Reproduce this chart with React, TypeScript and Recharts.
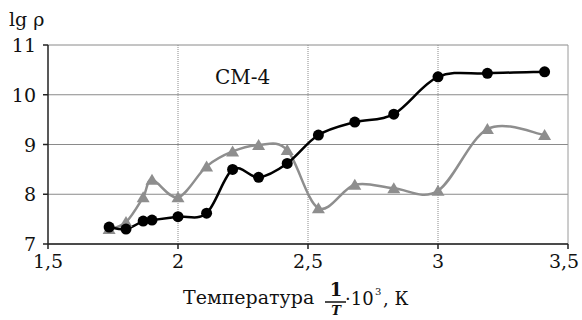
import React from 'react'
import {
  LineChart,
  Line,
  XAxis,
  YAxis,
  CartesianGrid,
  ReferenceLine,
} from 'recharts'

// 1/T * 10^3 values
const xValues = [1.735, 1.8, 1.866, 1.9, 2.0, 2.11, 2.21, 2.31, 2.42, 2.54, 2.68, 2.83, 3.0, 3.19, 3.41]
// black circles
const blackSeries = [7.34, 7.3, 7.46, 7.48, 7.55, 7.62, 8.5, 8.34, 8.62, 9.19, 9.45, 9.61, 10.36, 10.43, 10.46]
// gray triangles
const graySeries = [7.3, 7.44, 7.94, 8.29, 7.94, 8.56, 8.86, 8.99, 8.89, 7.72, 8.19, 8.12, 8.07, 9.31, 9.19]
const xTicks = [1.5, 2, 2.5, 3, 3.5]
const yTicks = [7, 8, 9, 10, 11]
const vGrid = [2, 2.5, 3]

const data = xValues.map((x, i) => ({ x, black: blackSeries[i], gray: graySeries[i] }))

const FONT = '"DejaVu Serif", serif'
const txt = { fontFamily: FONT, fill: '#111' }

// Excel-like smoothed line (Catmull-Rom through the points)
const smoothCurve = (context: any) => {
  let pts: number[][] = []
  return {
    areaStart() {},
    areaEnd() {},
    lineStart() {
      pts = []
    },
    point(x: number, y: number) {
      pts.push([x, y])
    },
    lineEnd() {
      if (!pts.length) return
      context.moveTo(pts[0][0], pts[0][1])
      for (let i = 0; i < pts.length - 1; i++) {
        const p0 = pts[Math.max(0, i - 1)]
        const p1 = pts[i]
        const p2 = pts[i + 1]
        const p3 = pts[Math.min(pts.length - 1, i + 2)]
        context.bezierCurveTo(
          p1[0] + (p2[0] - p0[0]) / 6,
          p1[1] + (p2[1] - p0[1]) / 6,
          p2[0] - (p3[0] - p1[0]) / 6,
          p2[1] - (p3[1] - p1[1]) / 6,
          p2[0],
          p2[1],
        )
      }
    },
  }
}

const Triangle = (props: any) => {
  const { cx, cy } = props
  if (cx == null || cy == null) return null
  return <polygon points={`${cx},${cy - 6} ${cx - 6.5},${cy + 5} ${cx + 6.5},${cy + 5}`} fill="#8e8e8e" />
}

const Circle = (props: any) => {
  const { cx, cy } = props
  if (cx == null || cy == null) return null
  return <circle cx={cx} cy={cy} r={5.5} fill="#000" />
}

const fmt = (v: number) => String(v).replace('.', ',')

// keep the last label inside the picture
const XTick = (props: any) => (
  <text x={Math.min(props.x, 564)} y={props.y + 17} textAnchor="middle" fontSize={19} style={txt}>
    {fmt(props.payload.value)}
  </text>
)

const YTick = (props: any) => (
  <text x={props.x} y={props.y + 7} textAnchor="end" fontSize={19} style={txt}>
    {props.payload.value}
  </text>
)

const XLabel = () => (
  <g>
    <text x={183} y={304} fontSize={19} style={txt}>Температура</text>
    <text x={336} y={296} fontSize={18} textAnchor="middle" fontWeight="bold" style={txt}>1</text>
    <line x1={325} x2={346} y1={302} y2={302} stroke="#111" strokeWidth={1.5} />
    <text x={336} y={315} fontSize={13} textAnchor="middle" fontStyle="italic" fontWeight="bold" style={txt}>T</text>
    <text x={345} y={305} fontSize={18} style={txt}>·10</text>
    <text x={375} y={295} fontSize={10} style={txt}>3</text>
    <text x={383} y={305} fontSize={18} style={txt}>, К</text>
  </g>
)

export default function App() {
  return (
    <div style={{ position: 'absolute', left: 0, top: 0, width: 582, height: 320, background: '#fff', fontFamily: FONT }}>
      <LineChart
        width={582}
        height={320}
        data={data}
        margin={{ top: 45, right: 14, left: 0, bottom: 50 }}
      >
        <CartesianGrid horizontal vertical={false} stroke="#8a8a8a" strokeWidth={1} />
        {vGrid.map((v) => (
          <ReferenceLine key={v} x={v} stroke="#8a8a8a" strokeDasharray="1 1" />
        ))}
        <ReferenceLine x={3.5} stroke="#9a9a9a" />
        <XAxis
          dataKey="x"
          type="number"
          domain={[1.5, 3.5]}
          ticks={xTicks}
          height={26}
          stroke="#222"
          strokeWidth={1.5}
          tickSize={5}
          tick={<XTick />}
          label={<XLabel />}
        />
        <YAxis
          type="number"
          domain={[7, 11]}
          ticks={yTicks}
          width={48}
          stroke="#222"
          strokeWidth={1.5}
          tickSize={5}
          tickMargin={7}
          tick={<YTick />}
        />
        <Line
          dataKey="gray"
          type={smoothCurve as any}
          stroke="#8e8e8e"
          strokeWidth={2.5}
          dot={<Triangle />}
          activeDot={false}
          isAnimationActive={false}
        />
        <Line
          dataKey="black"
          type={smoothCurve as any}
          stroke="#000"
          strokeWidth={2.5}
          dot={<Circle />}
          activeDot={false}
          isAnimationActive={false}
        />
        <text x={9} y={26} fontSize={19} style={txt}>lg ρ</text>
        <text x={215} y={84} fontSize={20} style={txt}>СМ-4</text>
      </LineChart>
    </div>
  )
}
